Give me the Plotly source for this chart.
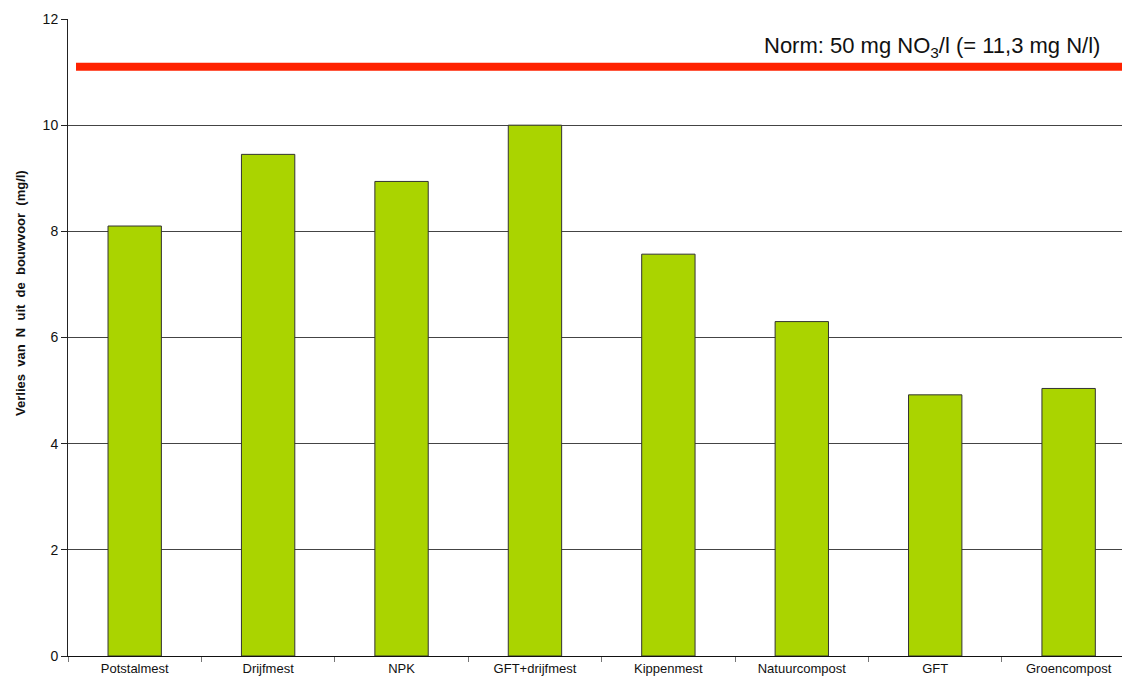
import plotly.graph_objects as go

categories = ["Potstalmest", "Drijfmest", "NPK", "GFT+drijfmest", "Kippenmest",
              "Natuurcompost", "GFT", "Groencompost"]
values = [8.1, 9.45, 8.94, 10.0, 7.57, 6.3, 4.92, 5.04]
norm_value = 11.1
norm_label = "Norm: 50 mg NO<sub>3</sub>/l (= 11,3 mg N/l)"
y_title = "<b>Verlies  van  N  uit  de  bouwvoor  (mg/l)</b>"

fig = go.Figure()
fig.add_trace(go.Bar(
    x=categories, y=values,
    marker=dict(color="#AAD400", line=dict(color="#333333", width=1)),
    width=0.4,
))

fig.add_shape(type="line", xref="paper", yref="y", x0=0.0076, x1=1,
              y0=norm_value, y1=norm_value,
              line=dict(color="#FF2200", width=8), layer="above")
fig.add_annotation(xref="paper", yref="y", x=1, y=norm_value, xanchor="right",
                   yanchor="bottom", xshift=-20, yshift=4, showarrow=False,
                   text=norm_label,
                   font=dict(family="Liberation Sans, Arial", size=22, color="#111111"))

fig.add_annotation(xref="paper", yref="paper", x=0, y=0.57, xanchor="center",
                   yanchor="middle", xshift=-47, showarrow=False, textangle=-90,
                   text=y_title,
                   font=dict(family="Liberation Sans, Arial", size=13, color="#111111"))

fig.update_layout(
    width=1122, height=686,
    margin=dict(l=68, r=0, t=19, b=30),
    plot_bgcolor="white", paper_bgcolor="white",
    showlegend=False,
    font=dict(family="Liberation Sans, Arial", color="#111111"),
    xaxis=dict(
        range=[-0.5, 7.40],
        tickson="boundaries", ticks="outside", ticklen=5, tickcolor="#777777",
        showline=True, linecolor="#111111", linewidth=1,
        tickfont=dict(size=13), showgrid=False,
    ),
    yaxis=dict(
        range=[0, 12], dtick=2, ticks="outside", ticklen=6, tickcolor="#222222",
        showline=True, linecolor="#222222", linewidth=1,
        showgrid=True, gridcolor="#444444", gridwidth=1,
        tickfont=dict(size=14), zeroline=False,
    ),
)
fig.write_html("out.html")
